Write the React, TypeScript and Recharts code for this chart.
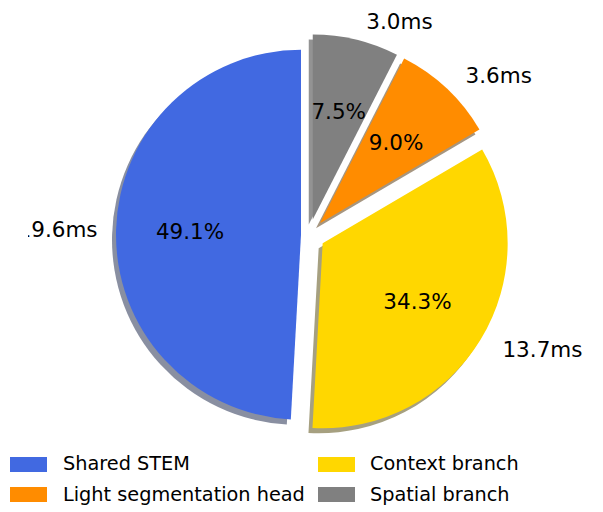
import { PieChart, Pie, Sector, Legend } from "recharts";

const categories = ["Shared STEM", "Context branch", "Light segmentation head", "Spatial branch"];
const timesMs = [19.6, 13.7, 3.6, 3.0];
const timeLabels = ["19.6ms", "13.7ms", "3.6ms", "3.0ms"];

const COLORS = ["#4169E1", "#FFD700", "#FF8C00", "#808080"];
// matplotlib-style shadow: 0.3 * face colour at half alpha on white
const SHADOWS = ["#898fa1", "#a6a080", "#a69680", "#939393"];
const EXPLODE = [8, 16, 16, 16];
const CX = 309;
const CY = 235;
const R = 185;
const RAD = Math.PI / 180;
const FONT = "'DejaVu Sans', sans-serif";
const LABEL_SIZE = 21.5;

const data = categories.map((name, i) => ({ name, value: timesMs[i] }));

function idxOf(p: any) {
  return categories.indexOf(p.name ?? p.payload?.name);
}

function offset(i: number, midAngle: number) {
  const d = EXPLODE[i] ?? 0;
  return [d * Math.cos(-midAngle * RAD), d * Math.sin(-midAngle * RAD)];
}

const wedge = (shadow: boolean) => (props: any) => {
  const i = idxOf(props);
  const [dx, dy] = offset(i, props.midAngle);
  return (
    <Sector
      cx={props.cx + dx + (shadow ? -4 : 0)}
      cy={props.cy + dy + (shadow ? 5 : 0)}
      innerRadius={0}
      outerRadius={props.outerRadius}
      startAngle={props.startAngle}
      endAngle={props.endAngle}
      fill={shadow ? SHADOWS[i] : COLORS[i]}
      stroke="none"
    />
  );
};

const renderLabel = (p: any) => {
  const i = idxOf(p);
  const cos = Math.cos(-p.midAngle * RAD);
  const sin = Math.sin(-p.midAngle * RAD);
  const [dx, dy] = offset(i, p.midAngle);
  const ox = p.cx + dx;
  const oy = p.cy + dy;
  const pr = p.outerRadius * 0.6;
  const lr = p.outerRadius * 1.1;
  const right = cos >= 0;
  return (
    <g key={`lbl-${i}`}>
      {i === 0 && (
        <defs>
          <clipPath id="leftCut">
            <rect x={28} y={0} width={600} height={512} />
          </clipPath>
        </defs>
      )}
      <text
        x={ox + pr * cos}
        y={oy + pr * sin}
        textAnchor="middle"
        dominantBaseline="central"
        fontFamily={FONT}
        fontSize={LABEL_SIZE}
        fill="#000"
      >
        {(p.percent * 100).toFixed(1)}%
      </text>
      <g clipPath={i === 0 ? "url(#leftCut)" : undefined}>
        <text
          x={ox + lr * cos + (right ? 6 : 0)}
          y={oy + lr * sin}
          textAnchor={right ? "start" : "end"}
          dominantBaseline="central"
          fontFamily={FONT}
          fontSize={LABEL_SIZE}
          fill="#000"
        >
          {timeLabels[i]}
        </text>
      </g>
    </g>
  );
};

// legend is laid out row by row: two columns
const LEG_COL_SWATCH = [10, 318];
const LEG_COL_TEXT = [63, 370];
const LEG_ROW_MID = [16, 46.5];

function LegendGrid() {
  return (
    <div style={{ position: "relative", width: 603, height: 64, fontFamily: FONT, fontSize: 19.3 }}>
      {categories.map((name, i) => {
        const col = i % 2;
        const row = Math.floor(i / 2);
        return (
          <div key={name}>
            <div
              style={{
                position: "absolute",
                left: LEG_COL_SWATCH[col],
                top: LEG_ROW_MID[row] - 7.5,
                width: 37,
                height: 15,
                background: COLORS[i],
              }}
            />
            <div
              style={{
                position: "absolute",
                left: LEG_COL_TEXT[col],
                top: LEG_ROW_MID[row] - 11,
                lineHeight: "22px",
                whiteSpace: "nowrap",
                color: "#000",
              }}
            >
              {name}
            </div>
          </div>
        );
      })}
    </div>
  );
}

export default function App() {
  return (
    <div style={{ width: 603, height: 512 }}>
      <style>{"html,body{margin:0;padding:0;overflow:hidden;background:#fff}"}</style>
      <PieChart width={603} height={512} margin={{ top: 0, right: 0, bottom: 0, left: 0 }}>
        <Pie
          data={data}
          dataKey="value"
          nameKey="name"
          cx={CX}
          cy={CY}
          outerRadius={R}
          startAngle={90}
          endAngle={450}
          stroke="none"
          shape={wedge(true)}
          isAnimationActive={false}
        />
        <Pie
          data={data}
          dataKey="value"
          nameKey="name"
          cx={CX}
          cy={CY}
          outerRadius={R}
          startAngle={90}
          endAngle={450}
          stroke="none"
          shape={wedge(false)}
          label={renderLabel}
          labelLine={false}
          isAnimationActive={false}
        />
        <Legend
          content={() => <LegendGrid />}
          wrapperStyle={{ position: "absolute", left: 0, top: 448, width: 603, height: 64 }}
        />
      </PieChart>
    </div>
  );
}
